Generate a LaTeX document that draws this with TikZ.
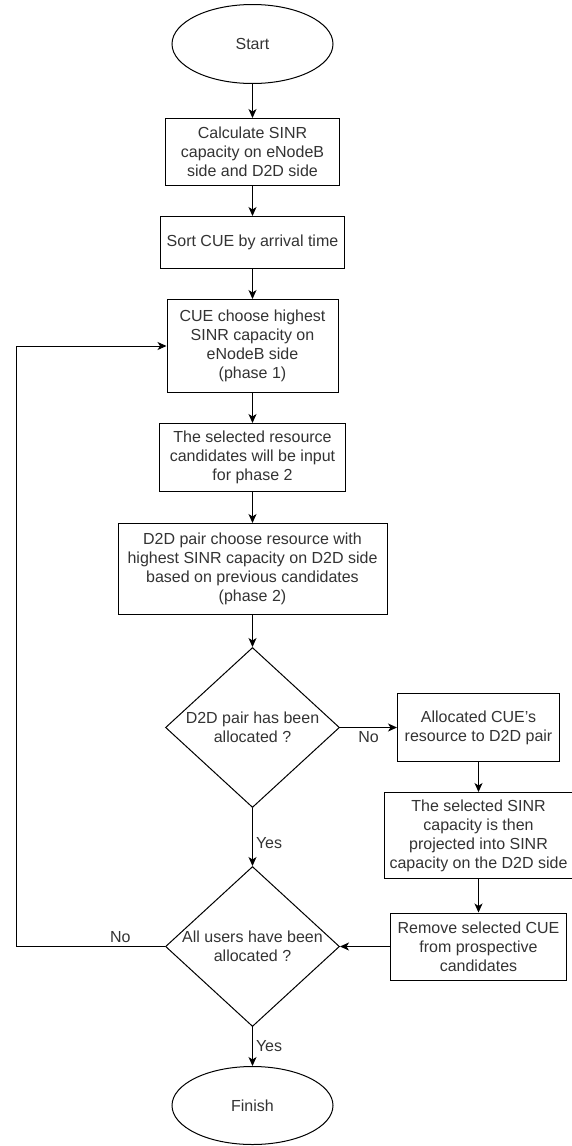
\documentclass[tikz,border=0pt]{standalone}
\usepackage{fontspec}
\setmainfont{Liberation Sans}
\usetikzlibrary{arrows.meta,positioning,shapes.geometric}
\newcommand{\flowfont}{\fontsize{16}{19}\selectfont}
\tikzset{
    flowbox/.style={draw, fill=white, align=center, font=\flowfont, text=black!80, inner sep=2pt},
    flowterminal/.style={ellipse, draw, align=center, font=\flowfont, text=black!80, minimum width=161pt, minimum height=79pt},
    flowdecision/.style={diamond, draw, align=center, font=\flowfont, text=black!80, inner sep=-14pt, minimum width=174pt, minimum height=160pt},
    flowarrow/.style={-{Stealth[length=9pt,width=8pt,inset=2.5pt]}, line width=1pt},
    flownote/.style={font=\flowfont, text=black!80, inner sep=3pt}
}

\begin{document}
\begin{tikzpicture}[x=1pt, y=-1pt, line width=1pt]
        \useasboundingbox (0,0) rectangle (571,1146);
        \node[flowterminal] (start) at (252.5,44) {Start};
        \node[flowbox, minimum width=174pt, minimum height=67pt, below=34pt of start] (calc) {Calculate SINR\\capacity on eNodeB\\side and D2D side};
        \node[flowbox, minimum width=184pt, minimum height=52pt, below=30pt of calc] (sort) {Sort CUE by arrival time};
        \node[flowbox, minimum width=171pt, minimum height=93pt, below=30pt of sort] (phase1) {CUE choose highest\\SINR capacity on\\eNodeB side\\(phase 1)};
        \node[flowbox, minimum width=186pt, minimum height=68pt, below=30pt of phase1] (input) {The selected resource\\candidates will be input\\for phase 2};
        \node[flowbox, minimum width=269pt, minimum height=91pt, below=31pt of input] (phase2) {D2D pair choose resource with\\highest SINR capacity on D2D side\\based on previous candidates\\(phase 2)};
        \node[flowdecision, below=32pt of phase2] (check1) {D2D pair has been\\allocated ?};
        \node[flowdecision, below=58pt of check1] (check2) {All users have been\\allocated ?};
        \node[flowterminal, minimum height=78pt, below=39pt of check2] (finish) {Finish};

        \node[flowbox, minimum width=162pt, minimum height=68pt, right=57pt of check1] (assign) {Allocated CUE’s\\resource to D2D pair};
        \node[flowbox, minimum width=188pt, minimum height=86pt, below=30pt of assign] (project) {The selected SINR\\capacity is then\\projected into SINR\\capacity on the D2D side};
        \node[flowbox, minimum width=176pt, minimum height=67pt, right=50pt of check2] (remove) {Remove selected CUE\\from prospective\\candidates};

        \coordinate[left=149pt of check2.west] (loop);

        \draw[flowarrow] (start) -- (calc);
        \draw[flowarrow] (calc) -- (sort);
        \draw[flowarrow] (sort) -- (phase1);
        \draw[flowarrow] (phase1) -- (input);
        \draw[flowarrow] (input) -- (phase2);
        \draw[flowarrow] (phase2) -- (check1);
        \draw[flowarrow] (check1) -- node[flownote, below]{No} (assign);
        \draw[flowarrow] (check1) -- node[flownote, right, pos=0.6]{Yes} (check2);
        \draw[flowarrow] (assign) -- (project);
        \draw[flowarrow] (project) -- (remove);
        \draw[flowarrow] (remove) -- (check2);
        \draw[flowarrow] (check2) -- node[flownote, right]{Yes} (finish);
        \draw[flowarrow] (check2.west) -- node[flownote, above, pos=0.3]{No} (loop) |- (phase1.west);
    \end{tikzpicture}
\end{document}
